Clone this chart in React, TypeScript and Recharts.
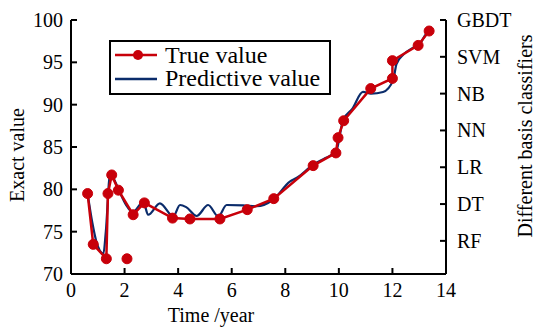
import { LineChart, Line, XAxis, YAxis, Legend, Label } from "recharts";

// true values (red markers)
const trueX = [0.62, 0.83, 1.32, 1.38, 1.52, 1.77, 2.32, 2.74, 3.79, 4.44, 5.56, 6.58, 7.57, 9.04, 9.89, 9.97, 10.18, 11.19, 12.0, 12.0, 12.96, 13.37];
const trueY = [79.5, 73.5, 71.8, 79.5, 81.7, 79.9, 77.0, 78.4, 76.6, 76.5, 76.5, 77.6, 78.9, 82.8, 84.3, 86.1, 88.1, 91.9, 93.1, 95.2, 97.0, 98.7];

// lone marker that is not joined to the line
const outlierX = [2.09];
const outlierY = [71.8];

// predictive values (blue curve)
const predX = [0.62, 0.8, 0.95, 1.21, 1.3, 1.46, 1.6, 1.83, 2.05, 2.3, 2.7, 2.88, 3.32, 3.82, 4.07, 4.3, 4.69, 5.12, 5.5, 5.81, 6.43, 6.93, 7.55, 8.17, 8.45, 9.04, 9.5, 9.9, 10.16, 10.5, 10.9, 11.2, 11.65, 12.03, 12.15, 12.4, 12.76, 13.0, 13.27, 13.37];
const predY = [79.5, 76.0, 73.8, 72.4, 75.0, 81.8, 81.2, 79.6, 78.2, 77.3, 78.5, 77.0, 78.35, 76.8, 78.15, 77.9, 76.85, 78.15, 76.8, 78.15, 78.1, 78.0, 78.8, 80.9, 81.4, 82.9, 83.7, 84.5, 88.2, 89.5, 91.5, 91.3, 91.5, 92.9, 94.8, 95.9, 96.7, 97.1, 98.4, 98.7];

const xTicks = [0, 2, 4, 6, 8, 10, 12, 14];
const yTicks = [70, 75, 80, 85, 90, 95, 100];
const classifiers = ["RF", "DT", "LR", "NN", "NB", "SVM", "GBDT"];
const classifierTicks = [1, 2, 3, 4, 5, 6, 7];

const trueData = trueX.map((x, i) => ({ x, y: trueY[i] }));
const outlierData = outlierX.map((x, i) => ({ x, y: outlierY[i] }));
const predData = predX.map((x, i) => ({ x, y: predY[i] }));
// keeps the right axis tied to something
const classifierData = classifierTicks.map((c) => ({ x: 14, c }));

const FONT = "'Liberation Serif', 'Times New Roman', serif";
const RED = "#c8000a";
const BLUE = "#0b2c6b";

function XTick({ x, y, payload }: any) {
  return (
    <text x={x} y={y + 23} textAnchor="middle" fontSize={20} fontFamily={FONT} fill="#000">
      {payload.value}
    </text>
  );
}

function LeftTick({ x, y, payload }: any) {
  return (
    <text x={x} y={y + 7} textAnchor="end" fontSize={20} fontFamily={FONT} fill="#000">
      {payload.value}
    </text>
  );
}

function RightTick({ x, y, payload }: any) {
  return (
    <text x={x} y={y + 7} textAnchor="start" fontSize={20} fontFamily={FONT} fill="#000">
      {classifiers[payload.value - 1]}
    </text>
  );
}

function LegendBox() {
  return (
    <div style={{ width: 222, height: 55, border: "2px solid #000", boxSizing: "border-box", background: "#fff" }}>
      <svg width={218} height={51} style={{ display: "block" }}>
        <line x1={4} y1={13} x2={46} y2={13} stroke={RED} strokeWidth={2.5} />
        <circle cx={27} cy={13} r={5} fill={RED} />
        <text x={54} y={21} fontSize={24} fontFamily={FONT} fill="#000">True value</text>
        <line x1={4} y1={37} x2={46} y2={37} stroke={BLUE} strokeWidth={2.5} />
        <text x={54} y={44} fontSize={24} fontFamily={FONT} fill="#000">Predictive value</text>
      </svg>
    </div>
  );
}

export default function App() {
  return (
    <div style={{ position: "absolute", left: 0, top: 0, fontFamily: FONT }}>
      <LineChart width={535} height={329} margin={{ top: 20, right: 39, bottom: 25, left: 31 }}>
        <XAxis
          dataKey="x"
          type="number"
          domain={[0, 14]}
          ticks={xTicks}
          allowDataOverflow
          height={30}
          tickSize={-6}
          tickMargin={6}
          tick={<XTick />}
          axisLine={{ stroke: "#000", strokeWidth: 2 }}
          tickLine={{ stroke: "#000", strokeWidth: 2 }}
        >
          <Label
            content={() => (
              <text x={211} y={322} textAnchor="middle" fontSize={20} fontFamily={FONT} fill="#000">
                Time /year
              </text>
            )}
          />
        </XAxis>
        <YAxis
          yAxisId="left"
          dataKey="y"
          type="number"
          domain={[70, 100]}
          allowDataOverflow
          ticks={yTicks}
          width={40}
          tickSize={-6}
          tickMargin={14}
          tick={<LeftTick />}
          axisLine={{ stroke: "#000", strokeWidth: 2 }}
          tickLine={{ stroke: "#000", strokeWidth: 2 }}
        >
          <Label
            content={() => (
              <text x={17} y={155} transform="rotate(-90 17 155)" textAnchor="middle" dominantBaseline="central" fontSize={20} fontFamily={FONT} fill="#000">
                Exact value
              </text>
            )}
          />
        </YAxis>
        <YAxis
          yAxisId="right"
          orientation="right"
          dataKey="c"
          type="number"
          domain={[0.1, 7]}
          allowDataOverflow
          ticks={classifierTicks}
          width={50}
          tickSize={-6}
          tickMargin={17}
          tick={<RightTick />}
          axisLine={{ stroke: "#000", strokeWidth: 2 }}
          tickLine={{ stroke: "#000", strokeWidth: 2 }}
        >
          <Label
            content={() => (
              <text x={525} y={136} transform="rotate(-90 525 136)" textAnchor="middle" dominantBaseline="central" fontSize={20} fontFamily={FONT} fill="#000">
                Different basis classifiers
              </text>
            )}
          />
        </YAxis>
        <Legend
          layout="horizontal"
          verticalAlign="middle"
          align="center"
          content={() => <LegendBox />}
          wrapperStyle={{ position: "absolute", left: 109, top: 40, width: 222, height: 55 }}
        />
        <Line
          yAxisId="right"
          data={classifierData}
          dataKey="c"
          stroke="none"
          dot={false}
          legendType="none"
          isAnimationActive={false}
        />
        <Line
          yAxisId="left"
          data={predData}
          dataKey="y"
          type="monotone"
          stroke={BLUE}
          strokeWidth={2.2}
          dot={false}
          isAnimationActive={false}
        />
        <Line
          yAxisId="left"
          data={trueData}
          dataKey="y"
          type="linear"
          stroke={RED}
          strokeWidth={2.5}
          dot={{ r: 5, fill: RED, stroke: RED, strokeWidth: 1 }}
          isAnimationActive={false}
        />
        <Line
          yAxisId="left"
          data={outlierData}
          dataKey="y"
          type="linear"
          stroke="none"
          dot={{ r: 5, fill: RED, stroke: RED, strokeWidth: 1 }}
          isAnimationActive={false}
        />
      </LineChart>
    </div>
  );
}
